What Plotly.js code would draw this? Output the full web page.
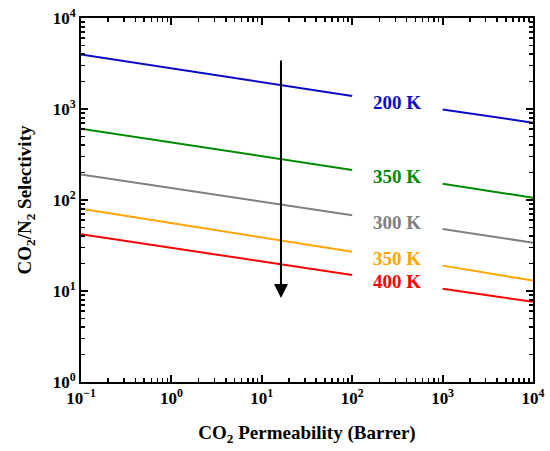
<!DOCTYPE html>
<html>
<head>
<meta charset="utf-8">
<script src="https://cdn.plot.ly/plotly-3.0.1.min.js"></script>
<style>html,body{margin:0;padding:0;background:#fff;}#chart{width:550px;height:451px;}</style>
</head>
<body>
<div id="chart"></div>
<script>
// CO2 permeability (Barrer): segment before and after the label gap
const permeability = [0.1, 100, null, 1000, 10000];
// Selectivity values per temperature series
const sel200 = [3980, 1390, null, 990, 708];
const sel350g = [608, 214, null, 151, 106];
const sel300 = [191, 68, null, 48, 34];
const sel350o = [80, 27, null, 19, 13];
const sel400 = [42, 15, null, 10.6, 7.6];
const seriesLabels = ["200 K", "350 K", "300 K", "350 K", "400 K"];
const seriesValues = [sel200, sel350g, sel300, sel350o, sel400];
const colors = ["#0a0ac8", "#008a00", "#808080", "#ffa500", "#ff0000"];
const xTickVals = [0.1, 1, 10, 100, 1000, 10000];
const xTickText = ["10<sup>−1</sup>", "10<sup>0</sup>", "10<sup>1</sup>", "10<sup>2</sup>", "10<sup>3</sup>", "10<sup>4</sup>"];
const yTickVals = [1, 10, 100, 1000, 10000];
const yTickText = ["10<sup>0</sup>", "10<sup>1</sup>", "10<sup>2</sup>", "10<sup>3</sup>", "10<sup>4</sup>"];

const serif = "Liberation Serif, DejaVu Serif, serif";

const traces = seriesValues.map((v, i) => ({
  x: permeability, y: v, type: "scatter", mode: "lines",
  connectgaps: false, line: {color: colors[i], width: 2}, hoverinfo: "skip", showlegend: false
}));

const annotations = seriesValues.map((v, i) => ({
  x: Math.log10(Math.sqrt(permeability[1] * permeability[3])),
  y: Math.log10(Math.sqrt(v[1] * v[3])),
  xref: "x", yref: "y", text: "<b>" + seriesLabels[i] + "</b>", showarrow: false,
  font: {family: serif, size: 19, color: colors[i]}
}));
annotations.push({
  x: Math.log10(16.3), y: Math.log10(8.4), ax: Math.log10(16.3), ay: Math.log10(3550),
  xref: "x", yref: "y", axref: "x", ayref: "y", text: "", showarrow: true,
  arrowhead: 2, arrowsize: 1.4, arrowwidth: 2, arrowcolor: "#000"
});

const axisCommon = {
  type: "log", showgrid: false, zeroline: false, showline: true, linecolor: "#000", linewidth: 2,
  mirror: "allticks", ticks: "inside", ticklen: 7, tickwidth: 2, tickcolor: "#000",
  tickfont: {family: serif, size: 17, color: "#000", weight: "bold"},
  minor: {ticks: "inside", ticklen: 4, tickwidth: 1.5, tickcolor: "#000", dtick: "D1"}
};

const layout = {
  width: 550, height: 451,
  margin: {l: 81, r: 17, t: 18, b: 69},
  paper_bgcolor: "#fff", plot_bgcolor: "#fff",
  xaxis: Object.assign({}, axisCommon, {
    range: [-1, 4], tickmode: "array", tickvals: xTickVals, ticktext: xTickText,
    title: {text: "<b>CO<sub>2</sub> Permeability (Barrer)</b>", font: {family: serif, size: 19, color: "#000"}, standoff: 18}
  }),
  yaxis: Object.assign({}, axisCommon, {
    range: [0, 4], tickmode: "array", tickvals: yTickVals, ticktext: yTickText,
    title: {text: "<b>CO<sub>2</sub>/N<sub>2</sub> Selectivity</b>", font: {family: serif, size: 19, color: "#000"}, standoff: 16}
  }),
  annotations: annotations
};

Plotly.newPlot("chart", traces, layout, {staticPlot: true, displayModeBar: false});
</script>
</body>
</html>
